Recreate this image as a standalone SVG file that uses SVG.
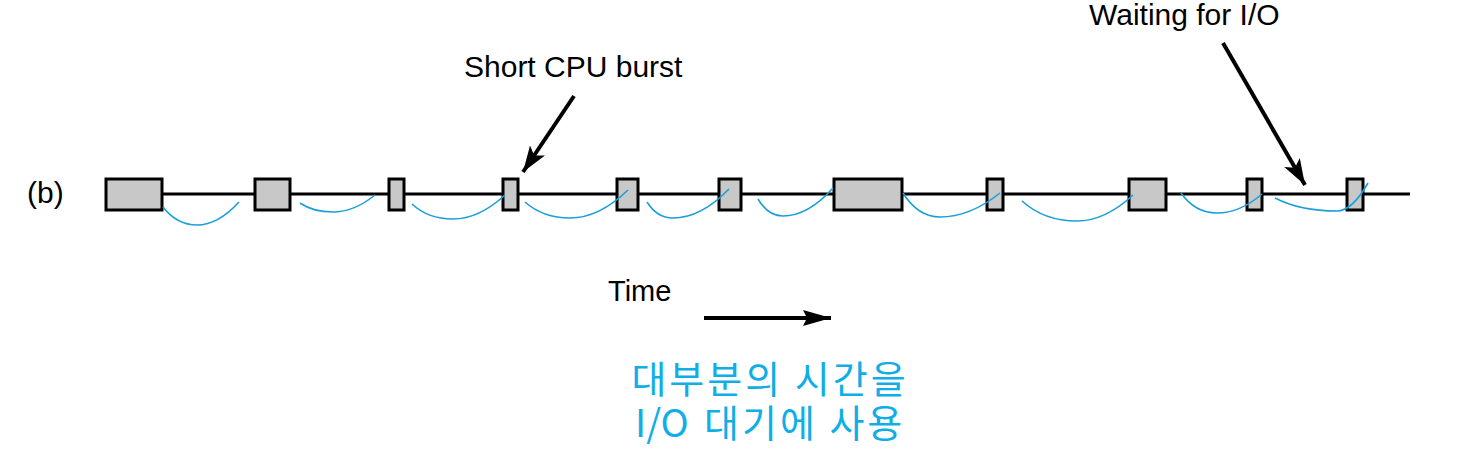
<svg xmlns="http://www.w3.org/2000/svg" width="1459" height="468" viewBox="0 0 1459 468">
<style>
.box{fill:#c8c8c8;stroke:#000;stroke-width:3}
.lbl{font-family:"Liberation Sans",Arial,sans-serif;fill:#000}
.ko{font-family:"Noto Sans CJK KR","Noto Sans",sans-serif;fill:#10aee6;font-size:38px;letter-spacing:3px}
.cur{fill:none;stroke:#1a9fd9;stroke-width:1.6}
.arr{fill:none;stroke:#000;stroke-width:4}
</style>
<defs>
<marker id="ah" markerUnits="userSpaceOnUse" markerWidth="28" markerHeight="22" refX="26" refY="11" orient="auto">
<path d="M0,2 L26,11 L0,20 L6,11 Z" fill="#000"/>
</marker>
<marker id="ah2" markerUnits="userSpaceOnUse" markerWidth="30" markerHeight="20" refX="28" refY="10" orient="auto">
<path d="M0,2 L28,10 L0,18 L4,10 Z" fill="#000"/>
</marker>
</defs>
<rect width="1459" height="468" fill="#fff"/>
<g id="connectors">
<line x1="162" y1="194" x2="1410" y2="194" stroke="#000" stroke-width="3"/>
<line class="arr" x1="574" y1="96" x2="523" y2="172" marker-end="url(#ah)"/>
<line class="arr" x1="1223" y1="43" x2="1305" y2="185" marker-end="url(#ah)"/>
<line class="arr" x1="704" y1="318" x2="831" y2="318" marker-end="url(#ah2)"/>
</g>
<g id="bursts">
<rect id="b1" class="box" x="106" y="179" width="56" height="31"/>
<rect id="b2" class="box" x="255" y="179" width="35" height="31"/>
<rect id="b3" class="box" x="389" y="179" width="15" height="31"/>
<rect id="b4" class="box" x="503" y="179" width="15" height="31"/>
<rect id="b5" class="box" x="617" y="179" width="21" height="31"/>
<rect id="b6" class="box" x="719" y="179" width="22" height="31"/>
<rect id="b7" class="box" x="834" y="179" width="68" height="31"/>
<rect id="b8" class="box" x="987" y="179" width="16" height="31"/>
<rect id="b9" class="box" x="1129" y="179" width="37" height="31"/>
<rect id="b10" class="box" x="1247" y="179" width="15" height="31"/>
<rect id="b11" class="box" x="1347" y="179" width="16" height="31"/>
</g>
<g id="io-waits">
<path class="cur" d="M163,207 Q177,225 197,225 Q218,225 239,202"/>
<path class="cur" d="M300,203 Q313,212 333,212 Q354,212 375,195"/>
<path class="cur" d="M412,204 Q428,219 453,219 Q479,219 505,195"/>
<path class="cur" d="M525,202 Q543,218 570,218 Q599,218 628,190"/>
<path class="cur" d="M647,202 Q657,218 673,218 Q701,218 729,189"/>
<path class="cur" d="M758,199 Q768,216 783,216 Q808,216 833,188"/>
<path class="cur" d="M903,193 Q918,217 940,217 Q970,217 1000,193"/>
<path class="cur" d="M1022,201 Q1044,221 1077,221 Q1105,221 1133,195"/>
<path class="cur" d="M1181,193 Q1195,213 1217,213 Q1240,213 1262,194"/>
<path class="cur" d="M1275,198 Q1300,211 1337,211 Q1352,211 1368,183"/>
</g>
<g id="labels">
<text class="lbl" x="27" y="203" font-size="30">(b)</text>
<text class="lbl" x="464" y="77" font-size="30">Short CPU burst</text>
<text class="lbl" x="1089" y="25" font-size="30">Waiting for I/O</text>
<text class="lbl" x="608" y="301" font-size="29">Time</text>
<text class="ko" x="770" y="393" text-anchor="middle">대부분의 시간을</text>
<text class="ko" x="635" y="437"><tspan letter-spacing="0">I/O</tspan><tspan x="704">대기에 사용</tspan></text>
</g>
</svg>
